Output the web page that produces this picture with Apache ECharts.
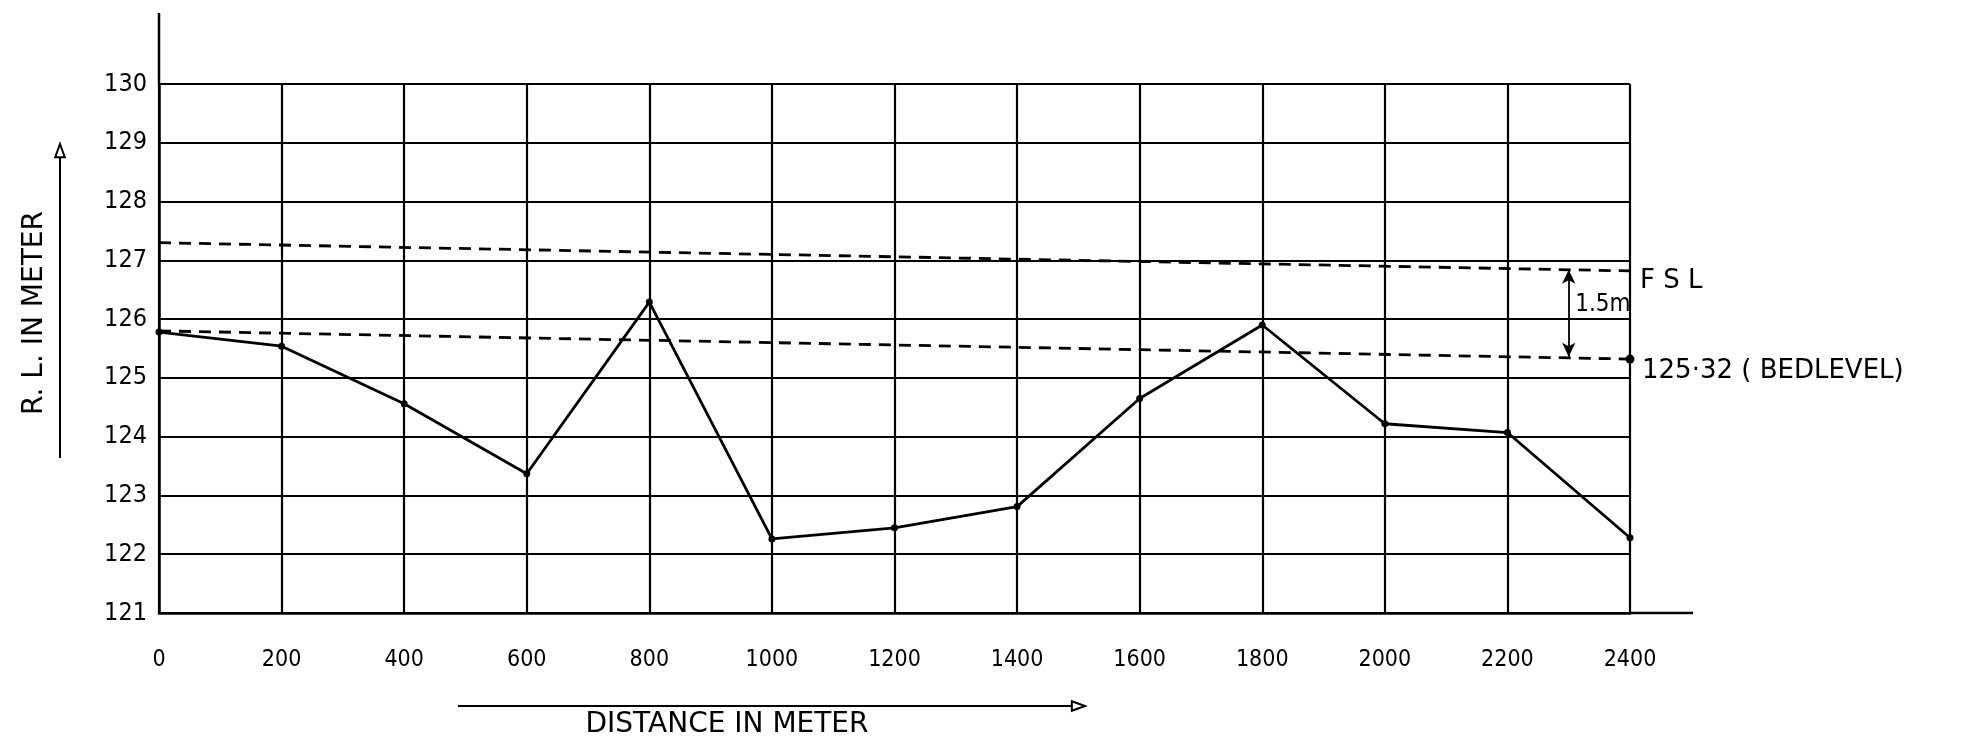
<!DOCTYPE html>
<html>
<head>
<meta charset="utf-8">
<script src="https://cdn.jsdelivr.net/npm/echarts@6/dist/echarts.min.js"></script>
<style>
html, body { margin: 0; background: #fff; }
#chart { width: 1966px; height: 755px; }
</style>
</head>
<body>
<div id="chart"></div>
<script>
// distance (m) and ground R.L. (m)
var distances = [0, 200, 400, 600, 800, 1000, 1200, 1400, 1600, 1800, 2000, 2200, 2400];
var groundLevels = [125.78, 125.54, 124.56, 123.37, 126.29, 122.26, 122.45, 122.81, 124.65, 125.9, 124.22, 124.07, 122.28];

// dashed design lines (start / end)
var fslDist = [0, 2400];
var fslLevels = [127.3, 126.82];
var bedDist = [0, 2400];
var bedLevels = [125.8, 125.32];

// 1.5m arrow between FSL and bed
var gapDist = 2300;
var gapTop = 126.84;
var gapBottom = 125.36;

var yMin = 121, yMax = 130, yStep = 1;
var xMin = 0, xMax = 2400, xStep = 200;

var font = "'DejaVu Sans Condensed', 'DejaVu Sans', sans-serif";
var wideFont = "'DejaVu Sans', sans-serif";

function pairs(xs, ys) {
    var out = [];
    for (var i = 0; i < xs.length; i++) out.push([xs[i], ys[i]]);
    return out;
}

var chartDom = document.getElementById('chart');
var myChart = echarts.init(chartDom);

var lastIdx = bedDist.length - 1;

myChart.setOption({
    animation: false,
    backgroundColor: '#fff',
    grid: { left: 159, right: 336, top: 84, bottom: 142 },
    xAxis: {
        type: 'value',
        min: xMin, max: xMax, interval: xStep,
        axisLine: { show: true, lineStyle: { color: '#000', width: 2.5 } },
        axisTick: { show: false },
        axisLabel: {
            color: '#000', fontSize: 23, fontFamily: font, margin: 36,
            formatter: function (v) { return String(v); }
        },
        splitLine: { show: true, lineStyle: { color: '#000', width: 2.2 } }
    },
    yAxis: {
        type: 'value',
        min: yMin, max: yMax, interval: yStep,
        axisLine: { show: true, lineStyle: { color: '#000', width: 2.5 } },
        axisTick: { show: false },
        axisLabel: { color: '#000', fontSize: 25, fontFamily: font, margin: 12 },
        splitLine: { show: true, lineStyle: { color: '#000', width: 2.2 } }
    },
    series: [
        {
            name: 'Ground',
            type: 'line',
            data: pairs(distances, groundLevels),
            symbol: 'circle',
            symbolSize: 7,
            itemStyle: { color: '#000' },
            lineStyle: { color: '#000', width: 2.8 },
            z: 5
        },
        {
            name: 'FSL',
            type: 'line',
            data: pairs(fslDist, fslLevels),
            symbol: 'none',
            lineStyle: { color: '#000', width: 2.8, type: [12, 8] },
            endLabel: {
                show: true, formatter: 'F S L', color: '#000',
                fontSize: 26, fontFamily: wideFont, offset: [2, 10]
            },
            markLine: {
                silent: true,
                symbol: ['arrow', 'arrow'],
                symbolSize: [10, 14],
                lineStyle: { color: '#000', width: 1.8, type: 'solid' },
                label: { show: false },
                data: [[{ coord: [gapDist, gapTop] }, { coord: [gapDist, gapBottom] }]]
            },
            markPoint: {
                silent: true,
                symbol: 'circle',
                symbolSize: 1,
                itemStyle: { color: 'rgba(0,0,0,0)' },
                label: {
                    show: true, position: 'right', formatter: '1.5m', color: '#000',
                    fontSize: 24, fontFamily: font, distance: 6
                },
                data: [{ coord: [gapDist, (gapTop + gapBottom) / 2 + 0.15] }]
            },
            z: 4
        },
        {
            name: 'Bed level',
            type: 'line',
            data: pairs(bedDist, bedLevels).map(function (p, i) {
                return i === lastIdx ? { value: p, symbol: 'circle', symbolSize: 9 } : { value: p, symbol: 'none' };
            }),
            itemStyle: { color: '#000' },
            lineStyle: { color: '#000', width: 2.8, type: [12, 8] },
            endLabel: {
                show: true,
                formatter: bedLevels[lastIdx].toFixed(2).replace('.', '\u00b7') + ' ( BEDLEVEL)',
                color: '#000', fontSize: 26, fontFamily: wideFont, offset: [4, 12]
            },
            z: 4
        }
    ]
});

// extensions of the hand-drawn axes and the axis titles with arrows
var topLeft = myChart.convertToPixel({ gridIndex: 0 }, [xMin, yMax]);
var bottomRight = myChart.convertToPixel({ gridIndex: 0 }, [xMax, yMin]);

function arrow(x1, y1, x2, y2, size) {
    var ang = Math.atan2(y2 - y1, x2 - x1);
    var a1 = ang + Math.PI - 0.35, a2 = ang + Math.PI + 0.35;
    return [
        { type: 'line', shape: { x1: x1, y1: y1, x2: x2, y2: y2 }, style: { stroke: '#000', lineWidth: 2 } },
        {
            type: 'polygon',
            shape: { points: [[x2, y2], [x2 + size * Math.cos(a1), y2 + size * Math.sin(a1)], [x2 + size * Math.cos(a2), y2 + size * Math.sin(a2)]] },
            style: { fill: '#fff', stroke: '#000', lineWidth: 2 }
        }
    ];
}

var graphics = [
    { type: 'line', shape: { x1: topLeft[0], y1: topLeft[1], x2: topLeft[0], y2: 13 }, style: { stroke: '#000', lineWidth: 2.5 } },
    { type: 'line', shape: { x1: bottomRight[0], y1: bottomRight[1], x2: bottomRight[0] + 63, y2: bottomRight[1] }, style: { stroke: '#000', lineWidth: 2.5 } },
    {
        type: 'text', x: 727, y: 725,
        style: { text: 'DISTANCE IN METER', fill: '#000', fontSize: 28, fontFamily: wideFont, align: 'center', verticalAlign: 'middle' }
    },
    {
        type: 'text', x: 35, y: 313, rotation: Math.PI / 2,
        style: { text: 'R. L. IN METER', fill: '#000', fontSize: 28, fontFamily: wideFont, align: 'center', verticalAlign: 'middle' }
    }
].concat(arrow(458, 706, 1085, 706, 14)).concat(arrow(60, 458, 60, 144, 14));

myChart.setOption({ graphic: graphics });
</script>
</body>
</html>
